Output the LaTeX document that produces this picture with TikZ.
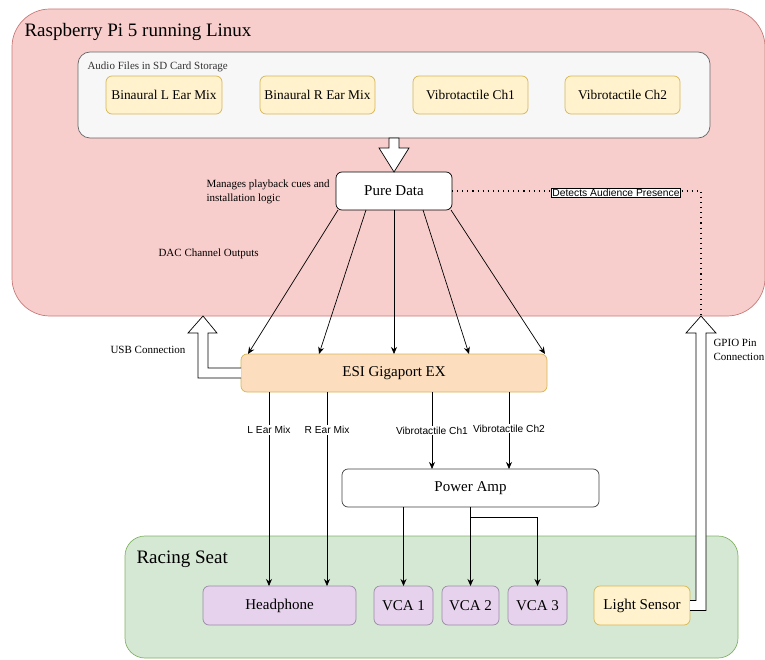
\documentclass[tikz,border=0pt]{standalone}
\usepackage{fontspec}
\setmainfont{Liberation Serif}
\newfontfamily\sansf{Liberation Sans}
\usetikzlibrary{arrows.meta,calc}
\definecolor{pinkfill}{HTML}{F8CECC}
\definecolor{pinkline}{HTML}{C87A78}
\definecolor{storfill}{HTML}{F7F7F7}
\definecolor{storline}{HTML}{666666}
\definecolor{yelfill}{HTML}{FFF2CC}
\definecolor{yelline}{HTML}{D6B656}
\definecolor{esifill}{HTML}{FCDDBD}
\definecolor{greenfill}{HTML}{D5E8D4}
\definecolor{greenline}{HTML}{82B366}
\definecolor{purpfill}{HTML}{E6D2EC}
\definecolor{purpline}{HTML}{9A8AA6}
\begin{document}
\begin{tikzpicture}[x=1pt,y=-1pt,
  box/.style={draw, rounded corners=6pt, inner sep=0pt, outer sep=0pt, align=center, line width=0.7pt},
  f19/.style={font=\fontsize{19}{22}\selectfont},
  f15/.style={font=\fontsize{15}{18}\selectfont},
  f13/.style={font=\fontsize{13.4}{16}\selectfont},
  f11/.style={font=\fontsize{11}{13.5}\selectfont},
  elab/.style={font=\sansf\fontsize{10.2}{12}\selectfont, fill=white, inner sep=1pt},
  arr/.style={draw, line width=0.7pt, -{Stealth[length=7pt,width=6pt]}},
  plain/.style={draw, line width=0.7pt},
  hollow/.style={draw=black, fill=white, line width=0.7pt, line join=miter},
  dotline/.style={draw, line width=1.1pt, dash pattern=on 1.1pt off 4pt},
  yelbox/.style={box, fill=yelfill, draw=yelline, f13, minimum height=38pt},
  purpbox/.style={box, fill=purpfill, draw=purpline, f15, minimum height=39pt}
]
\useasboundingbox (0,0) rectangle (765,660);

% containers
\node[box, rounded corners=38pt, fill=pinkfill, draw=pinkline, minimum width=753pt, minimum height=307pt] (outer) at (388.5,162.5) {};
\node[f19, anchor=west] (rpi) at (21,32) {Raspberry Pi 5 running Linux};

\node[box, rounded corners=12pt, fill=storfill, draw=storline, minimum width=632pt, minimum height=86pt] (st) at (394,95) {};
\node[f11, anchor=west, text=black!80] (sttitle) at (84,67) {Audio Files in SD Card Storage};
\node[yelbox, minimum width=116pt] (bl) at (164,95) {Binaural L Ear Mix};
\node[yelbox, minimum width=115pt] (br) at (317.5,95) {Binaural R Ear Mix};
\node[yelbox, minimum width=115pt] (v1f) at (470.5,95) {Vibrotactile Ch1};
\node[yelbox, minimum width=115pt] (v2f) at (622.5,95) {Vibrotactile Ch2};

\node[box, fill=white, draw=black, f15, minimum width=116pt, minimum height=38pt] (pd) at (394,191) {Pure Data};
\node[f11, anchor=west, align=left] (mng) at (203,192) {Manages playback cues and\\installation logic};
\node[f11, anchor=west] (dac) at (155,254) {DAC Channel Outputs};

\node[box, fill=esifill, draw=yelline, f15, minimum width=306pt, minimum height=38pt] (esi) at (394,373) {ESI Gigaport EX};
\node[box, fill=white, draw=black!75, f15, minimum width=257pt, minimum height=38pt] (pa) at (470.5,488) {Power Amp};

\node[box, rounded corners=20pt, fill=greenfill, draw=greenline, minimum width=613pt, minimum height=122pt] (seat) at (431.5,597) {};
\node[f19, anchor=west] (seattitle) at (133,559) {Racing Seat};
\node[purpbox, minimum width=153pt] (hp) at (279.5,605.5) {Headphone};
\node[purpbox, minimum width=59pt] (vca1) at (403.5,605.5) {VCA 1};
\node[purpbox, minimum width=57pt] (vca2) at (470.5,605.5) {VCA 2};
\node[purpbox, minimum width=59pt] (vca3) at (537.5,605.5) {VCA 3};
\node[box, fill=yelfill, draw=yelline, f15, minimum width=96pt, minimum height=39pt] (ls) at (642,605.5) {Light Sensor};

\node[f11, anchor=west] (usblab) at (107,350) {USB Connection};
\node[f11, anchor=west, align=left] (gpiolab) at (710,350) {GPIO Pin\\Connection};

\coordinate (usbtip) at (203,316);
\coordinate (gpiotip) at (701,316);

% storage -> pure data hollow arrow
\draw[hollow] ([xshift=-5pt]st.south) -- ++(0,10) -- ++(-10,0) -- (pd.north) -- ++(15,-24) -- ++(-10,0) -- ++(0,-10) -- cycle;

% pure data -> ESI
\draw[arr] ([xshift=-56pt]pd.south) -- ([xshift=-146pt]esi.north);
\draw[arr] ([xshift=-28pt]pd.south) -- ([xshift=-75pt]esi.north);
\draw[arr] (pd.south) -- (esi.north);
\draw[arr] ([xshift=29pt]pd.south) -- ([xshift=75pt]esi.north);
\draw[arr] ([xshift=57pt]pd.south) -- ([xshift=151pt]esi.north);

% ESI -> outputs
\draw[arr] ([xshift=-125pt]esi.south) -- node[elab, pos=0.196] {L Ear Mix} ([xshift=-125pt]esi.south |- hp.north);
\draw[arr] ([xshift=-67pt]esi.south) -- node[elab, pos=0.196] {R Ear Mix} ([xshift=-67pt]esi.south |- hp.north);
\draw[arr] ([xshift=38pt]esi.south) -- node[elab, pos=0.5] {Vibrotactile Ch1} ([xshift=38pt]esi.south |- pa.north);
\draw[arr] ([xshift=115pt]esi.south) -- node[elab, pos=0.475] {Vibrotactile Ch2} ([xshift=115pt]esi.south |- pa.north);

% power amp -> VCAs
\draw[arr] (pa.south -| vca1.north) -- (vca1.north);
\draw[arr] (pa.south -| vca2.north) -- (vca2.north);
\draw[arr] ([yshift=-10pt]pa.south -| vca2.north) -| (vca3.north);

% USB hollow arrow
\draw[hollow] ([yshift=5pt]esi.west) -- ++(-33,0) -- ++(0,-35) -- ++(9,0) -- (usbtip) -- ++(-15,17) -- ++(10,0) -- ++(0,45) -- ([yshift=-5pt]esi.west);

% GPIO hollow arrow
\draw[hollow] ([yshift=5pt]ls.east) -- ++(6,0) -- ++(0,-267.5) -- ++(-10,0) -- (gpiotip) -- ++(15,17) -- ++(-10,0) -- ++(0,277.5) -- ([yshift=-5pt]ls.east);

% dotted detection line
\draw[dotline] (pd.east) -- (gpiotip |- pd.east) -- (gpiotip);
\node[draw=black, fill=white, line width=0.6pt, inner sep=1pt, font=\sansf\fontsize{10.3}{12}\selectfont] (det) at (616,193) {Detects Audience Presence};
\end{tikzpicture}
\end{document}
